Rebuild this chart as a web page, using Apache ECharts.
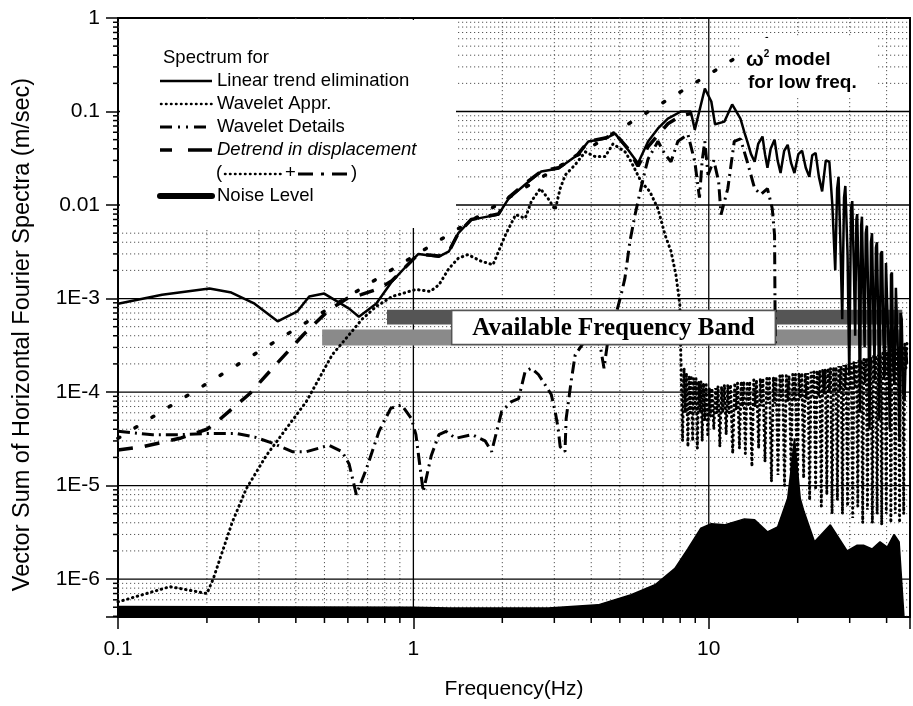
<!DOCTYPE html>
<html><head><meta charset="utf-8">
<script src="https://cdn.jsdelivr.net/npm/echarts@6/dist/echarts.min.js"></script>
<style>html,body{margin:0;padding:0;background:#fff}#c{width:913px;height:706px}</style>
</head><body><div id="c"></div>
<script>
// ---------- data (frequency Hz, amplitude m/sec) ----------
const xTickValues = [0.1, 1, 10];
const yTickValues = [1e-6, 1e-5, 1e-4, 1e-3, 0.01, 0.1, 1];

const linearTrend = [
 [0.1,8.8e-4],[0.141,1.10e-3],[0.204,1.28e-3],[0.242,1.16e-3],[0.29,8.8e-4],[0.347,5.7e-4],
 [0.405,7.3e-4],[0.444,1.05e-3],[0.499,1.13e-3],[0.606,7.8e-4],[0.654,6.4e-4],[0.748,8.8e-4],
 [0.846,1.52e-3],[0.944,2.2e-3],[1.04,3.0e-3],[1.22,2.8e-3],[1.32,3.2e-3],[1.42,5.0e-3],
 [1.57,7.0e-3],[1.66,7.2e-3],[1.94,7.9e-3],[2.10,1.17e-2],[2.39,1.66e-2],[2.71,2.28e-2],[3.10,2.46e-2],
 [3.61,3.47e-2],[3.91,4.77e-2],[4.46,5.14e-2],[4.82,5.8e-2],[5.33,3.9e-2],[5.76,2.8e-2],
 [6.23,4.77e-2],[6.73,6.6e-2],[7.27,8.4e-2],[8.05,0.10],[8.69,0.10],[8.97,0.064],[9.7,0.176],
 [10.2,0.128],[10.5,0.073],[11.3,0.078],[12.0,0.119],[12.8,0.084],[13.2,0.06],[13.5,0.048],
 [13.9,0.035],[14.3,0.029],[14.7,0.045],[15.2,0.054],[15.5,0.035],[15.8,0.025],[16.2,0.04],
 [16.7,0.05],[17.1,0.03],[17.5,0.022],[18.0,0.038],[18.5,0.044],[19.0,0.028],[19.5,0.022],
 [20.1,0.035],[20.7,0.038],[21.3,0.025],[21.9,0.02],[22.4,0.034],[23.0,0.036],[23.6,0.02],
 [24.2,0.014],[24.9,0.03],[25.6,0.029],[26.2,0.01],[26.8,2e-3],[27.2,0.015],[27.5,0.02],
 [27.9,4e-3],[28.3,6e-4],[28.7,0.012],[29.0,0.016],[29.5,3e-3],[29.9,1.5e-4],[30.3,0.009],
 [30.6,0.011],[31.0,2e-3],[31.3,4e-4],[31.6,0.007],[31.8,0.008],[32.2,1.5e-3],[32.5,6e-5],
 [32.8,0.006],[33.0,0.0075],[33.4,1e-3],[33.7,3e-4],[34.0,0.005],[34.3,0.006],[34.7,8e-4],
 [35.0,4e-5],[35.4,0.004],[35.7,0.005],[36.1,6e-4],[36.4,2e-4],[36.8,0.0035],[37.1,0.004],
 [37.5,5e-4],[37.8,5e-5],[38.2,0.003],[38.6,0.0032],[39.0,4e-4],[39.4,1.5e-4],[39.8,0.0024],
 [40.2,0.0025],[40.6,3e-4],[41.0,4e-5],[41.4,0.0018],[41.7,0.0019],[42.1,2e-4],[42.5,1.2e-4],
 [43.0,0.0013],[43.4,0.0013],[43.8,2e-4],[44.2,3e-5],[44.6,7e-4],[45.0,6e-4],[45.5,1e-4],
 [46.0,8e-5],[46.5,3e-4],[46.9,2e-4]
];

const waveletAppr = [
 [0.1,5.7e-7],[0.15,8.3e-7],[0.2,7.0e-7],[0.21,1.0e-6],[0.244,4.1e-6],[0.272,9.3e-6],
 [0.318,2.1e-5],[0.372,4.1e-5],[0.434,7.9e-5],[0.531,2.5e-4],[0.606,4.1e-4],[0.67,6.0e-4],
 [0.748,8.2e-4],[0.846,1.05e-3],[1.02,1.25e-3],[1.14,1.19e-3],[1.22,1.4e-3],[1.32,2.1e-3],
 [1.42,2.7e-3],[1.53,2.95e-3],[1.70,2.5e-3],[1.86,2.3e-3],[2.05,4.8e-3],[2.22,7.9e-3],
 [2.39,7.2e-3],[2.51,1.1e-2],[2.69,1.5e-2],[2.86,1.17e-2],[3.02,8.9e-3],[3.14,1.5e-2],
 [3.27,2.1e-2],[3.53,2.7e-2],[3.82,3.7e-2],[4.12,3.3e-2],[4.46,3.3e-2],[4.74,4.5e-2],
 [5.21,3.7e-2],[5.46,2.9e-2],[5.9,1.78e-2],[6.32,1.39e-2],[6.73,9.1e-3],[7.11,4.8e-3],
 [7.45,3.2e-3],[7.74,1.8e-3],[7.98,8.6e-4],[8.05,2.1e-4],
 [8.15,3e-5],[8.25,1.8e-4],[8.33,6e-5],[8.4,1.6e-4],[8.5,2.6e-5],[8.58,1.5e-4],[8.65,6e-5],
 [8.72,1.5e-4],[8.82,3e-5],[8.9,1.4e-4],[8.98,6e-5],[9.05,1.4e-4],[9.15,2.5e-5],[9.25,1.3e-4],
 [9.33,6e-5],[9.4,1.3e-4],[9.5,3e-5],[9.6,1.25e-4],[9.7,5e-5],[9.8,1.2e-4],[9.92,3.5e-5],
 [10.05,1.1e-4],[10.15,5.5e-5],[10.25,1.1e-4],[10.4,4e-5],[10.55,1.1e-4],[10.65,6e-5],
 [10.75,1.15e-4],[10.9,2.6e-5],[11.05,1.15e-4],[11.15,6e-5],[11.3,1.2e-4],[11.45,3.5e-5],
 [11.6,1.2e-4],[11.72,6e-5],[11.85,1.2e-4],[12.05,2.2e-5],[12.25,1.25e-4],[12.38,6.5e-5],
 [12.52,1.25e-4],[12.7,2.5e-5],[12.88,1.3e-4],[13.0,7e-5],[13.12,1.3e-4],[13.3,2.2e-5],
 [13.48,1.3e-4],[13.62,7e-5],[13.76,1.3e-4],[14.0,1.6e-5],[14.2,1.35e-4],[14.35,7e-5],
 [14.5,1.35e-4],[14.75,2.5e-5],[14.95,1.4e-4],[15.1,7e-5],[15.25,1.4e-4],[15.5,1.8e-5],
 [15.72,1.4e-4],[15.88,7.5e-5],[16.05,1.4e-4],[16.3,1.1e-5],[16.55,1.45e-4],[16.72,7.5e-5],
 [16.9,1.45e-4],[17.15,1.3e-5],[17.4,1.5e-4],[17.58,8e-5],[17.76,1.5e-4],[18.05,1.0e-5],
 [18.3,1.5e-4],[18.5,8e-5],[18.7,1.5e-4],[19.0,1.4e-5],[19.25,1.55e-4],[19.45,8e-5],
 [19.65,1.55e-4],[19.95,8e-6],[20.2,1.6e-4],[20.42,8.5e-5],[20.65,1.6e-4],[20.95,1.2e-5],
 [21.2,1.6e-4],[21.42,8.5e-5],[21.65,1.6e-4],[21.95,7e-6],[22.2,1.65e-4],[22.45,9e-5],
 [22.7,1.65e-4],[23.0,9e-6],[23.25,1.7e-4],[23.5,9e-5],[23.75,1.7e-4],[24.05,6e-6],
 [24.3,1.75e-4],[24.55,9.5e-5],[24.8,1.75e-4],[25.1,8e-6],[25.35,1.8e-4],[25.6,1e-4],
 [25.85,1.8e-4],[26.15,5e-6],[26.45,1.85e-4],[26.7,1e-4],[26.95,1.85e-4],[27.25,7e-6],
 [27.55,1.9e-4],[27.8,1.05e-4],[28.05,1.9e-4],[28.35,5e-6],[28.65,1.95e-4],[28.9,1.1e-4],
 [29.15,1.95e-4],[29.5,6e-6],[29.8,2.0e-4],[30.1,1.1e-4],[30.4,2.05e-4],[30.7,4.5e-6],
 [31.0,2.1e-4],[31.3,1.15e-4],[31.6,2.1e-4],[31.95,6e-6],[32.25,2.15e-4],[32.55,1.2e-4],
 [32.85,2.2e-4],[33.2,4e-6],[33.5,2.25e-4],[33.8,1.25e-4],[34.1,2.3e-4],[34.45,5.5e-6],
 [34.8,2.3e-4],[35.1,1.3e-4],[35.4,2.35e-4],[35.8,4e-6],[36.15,2.4e-4],[36.45,1.35e-4],
 [36.75,2.45e-4],[37.15,5e-6],[37.5,2.5e-4],[37.8,1.4e-4],[38.1,2.55e-4],[38.5,3.8e-6],
 [38.85,2.6e-4],[39.2,1.45e-4],[39.5,2.65e-4],[39.9,5e-6],[40.25,2.7e-4],[40.6,1.5e-4],
 [40.95,2.75e-4],[41.35,4e-6],[41.7,2.8e-4],[42.05,1.6e-4],[42.4,2.85e-4],[42.8,5e-6],
 [43.15,2.9e-4],[43.5,1.65e-4],[43.85,3.0e-4],[44.25,4e-6],[44.6,3.05e-4],[44.95,1.7e-4],
 [45.3,3.15e-4],[45.7,5e-6],[46.1,3.3e-4],[46.5,1.8e-4],[46.9,3.5e-4]
];

const waveletDetails = [
 [0.1,3.8e-5],[0.131,3.5e-5],[0.164,3.5e-5],[0.201,3.6e-5],[0.252,3.6e-5],[0.29,3.3e-5],
 [0.338,2.8e-5],[0.389,2.3e-5],[0.434,2.3e-5],[0.518,2.7e-5],[0.574,2.3e-5],[0.606,1.7e-5],
 [0.641,8.0e-6],[0.693,1.5e-5],[0.765,3.8e-5],[0.838,6.7e-5],[0.912,7.3e-5],[0.985,5.2e-5],
 [1.02,3.5e-5],[1.05,1.7e-5],[1.08,8.6e-6],[1.15,2.1e-5],[1.22,3.5e-5],[1.29,3.8e-5],
 [1.39,3.2e-5],[1.58,3.5e-5],[1.75,3.0e-5],[1.84,2.3e-5],[1.99,6.2e-5],[2.15,7.9e-5],
 [2.27,8.5e-5],[2.39,1.66e-4],[2.51,1.8e-4],[2.65,1.54e-4],[2.79,1.2e-4],[2.93,9.4e-5],
 [3.02,6.2e-5],[3.09,4.1e-5],[3.14,2.6e-5],[3.26,2.3e-5],[3.29,5.2e-5],[3.42,1.3e-4],
 [3.53,2.5e-4],[3.8,3.5e-4],[4.1,4.2e-4],[4.3,3.0e-4],[4.42,1.8e-4],[4.55,3.5e-4],[4.8,6e-4],
 [5.05,1.1e-3],[5.2,1.64e-3],[5.41,4.1e-3],[5.63,7.9e-3],[5.89,0.015],[6.08,0.023],[6.23,0.031],
 [6.73,0.048],[7.1,0.035],[7.45,0.029],[7.86,0.048],[8.5,0.057],[8.97,0.029],[9.3,0.012],
 [9.5,0.03],[9.7,0.048],[9.94,0.021],[10.4,0.03],[10.8,0.0178],[11.0,7.9e-3],[11.6,0.015],
 [12.2,0.048],[12.8,0.051],[13.5,0.029],[14.3,0.015],[15.0,0.013],[15.8,0.015],[16.4,9.2e-3],
 [16.7,4.8e-3],[16.75,1.1e-3],[16.8,3e-4]
];

const detrendDisp = [
 [0.1,2.4e-5],[0.121,2.6e-5],[0.162,3.2e-5],[0.2,4.0e-5],[0.221,5.1e-5],[0.279,9.6e-5],
 [0.344,2.0e-4],[0.424,4.1e-4],[0.519,7.6e-4],[0.596,1.0e-3],[0.665,1.1e-3],[0.765,1.28e-3],
 [0.846,1.55e-3],[0.944,2.2e-3],[1.04,3.0e-3],[1.22,2.85e-3],[1.32,3.2e-3],[1.42,5.0e-3],
 [1.57,7.0e-3],[1.94,8.0e-3],[2.10,1.2e-2],[2.39,1.7e-2],[2.71,2.3e-2],[3.10,2.5e-2],
 [3.61,3.5e-2],[3.91,4.8e-2],[4.46,5.2e-2],[4.82,5.8e-2],[5.33,4.0e-2],[5.76,2.6e-2],
 [6.23,4.2e-2],[6.73,5.6e-2],[7.27,7.4e-2],[8.05,9.0e-2],[8.69,9.5e-2]
];

const omega2Model = [[0.1,3.2e-5],[17,0.70]];

const noiseLevel = [
 [0.1,5.1e-7],[1,5.0e-7],[1.32,4.9e-7],[2.86,4.9e-7],[4.22,5.3e-7],[5.46,6.8e-7],[6.58,8.7e-7],
 [7.68,1.3e-6],[8.49,2.1e-6],[9.4,3.5e-6],[10.2,3.9e-6],[11.3,3.8e-6],[13.2,4.4e-6],[14.3,4.3e-6],
 [15.8,3.2e-6],[17.1,3.6e-6],[18.5,7.3e-6],[19.0,1.5e-5],[19.5,3.2e-5],[20.0,1.4e-5],[20.4,7.3e-6],
 [21.0,5.3e-6],[22.8,2.5e-6],[25.8,3.8e-6],[29.4,2.0e-6],[31.8,2.3e-6],[33.4,2.3e-6],[35.7,2.1e-6],
 [38.0,2.5e-6],[40.2,2.2e-6],[42.4,3.0e-6],[44.1,2.5e-6],[45.8,3.93e-7],[48,3.93e-7]
];

// ---------- axes ----------
const XMIN = 0.1, XMAX = 48, YMIN = 3.93e-7, YMAX = 1;
const FONT = '"Liberation Sans", Arial, sans-serif';
function decadeMinors(lo, hi) {
  const out = [];
  for (let e = Math.floor(Math.log10(lo)); e <= Math.ceil(Math.log10(hi)); e++)
    for (let m = 2; m <= 9; m++) { const v = m * Math.pow(10, e); if (v > lo && v < hi) out.push(v); }
  return out;
}
const xMinor = decadeMinors(XMIN, XMAX), yMinor = decadeMinors(YMIN, YMAX);

function gridLines(vals, dir, style, tickLen, z) {
  return {
    type: 'custom', silent: true, z: z, clip: false,
    data: vals.map(v => dir === 'x' ? [v, 1e-3] : [1, v]),
    renderItem: (params, api) => {
      const cs = params.coordSys;
      const children = [];
      if (dir === 'x') {
        const px = api.coord([api.value(0), 1e-3])[0];
        children.push({type: 'line', shape: {x1: px, y1: cs.y, x2: px, y2: cs.y + cs.height}, style: style});
        if (tickLen) children.push({type: 'line', shape: {x1: px, y1: cs.y + cs.height, x2: px, y2: cs.y + cs.height + tickLen}, style: {stroke: '#000', lineWidth: 1.5}});
      } else {
        const py = api.coord([1, api.value(1)])[1];
        children.push({type: 'line', shape: {x1: cs.x, y1: py, x2: cs.x + cs.width, y2: py}, style: style});
        if (tickLen) children.push({type: 'line', shape: {x1: cs.x - tickLen, y1: py, x2: cs.x, y2: py}, style: {stroke: '#000', lineWidth: 1.5}});
      }
      return {type: 'group', children: children};
    }
  };
}

function fmtPow(v, isY) {
  const e = Math.log10(v), r = Math.round(e);
  if (Math.abs(e - r) > 1e-6) return '';
  if (r === 0) return '1';
  if (r === 1) return '10';
  if (r === -1) return '0.1';
  if (isY && r === -2) return '0.01';
  return '1E' + r;
}

const chart = echarts.init(document.getElementById('c'));
const lineBase = {type: 'line', showSymbol: false, symbol: 'none', smooth: false, silent: true, animation: false};
const txt = (text, x, y, font) => ({type: 'text', z: 101, style: {text: text, x: x, y: y, font: font || ('18.5px ' + FONT), fill: '#000', verticalAlign: 'middle', textVerticalAlign: 'middle'}});

const option = {
  animation: false,
  backgroundColor: '#fff',
  grid: {left: 118, top: 18, right: 0, bottom: 89, show: true, borderColor: '#000', borderWidth: 2, backgroundColor: 'transparent'},
  xAxis: {
    type: 'log', logBase: 10, min: XMIN, max: XMAX,
    name: 'Frequency(Hz)', nameLocation: 'middle', nameGap: 62,
    nameTextStyle: {fontFamily: FONT, fontSize: 21, color: '#000'},
    axisLine: {lineStyle: {color: '#000', width: 2}},
    axisTick: {show: true, length: 12, inside: false, lineStyle: {color: '#000', width: 1.5}},
    axisLabel: {formatter: v => fmtPow(v, false), fontFamily: FONT, fontSize: 21, color: '#000', margin: 22},
    splitLine: {show: false}
  },
  yAxis: {
    type: 'log', logBase: 10, min: YMIN, max: YMAX,
    name: 'Vector Sum of Horizontal Fourier Spectra (m/sec)', nameLocation: 'middle', nameGap: 83,
    nameTextStyle: {fontFamily: FONT, fontSize: 23.5, color: '#000', padding: [0, 34, 0, 0]},
    axisLine: {lineStyle: {color: '#000', width: 2}},
    axisTick: {show: true, length: 12, lineStyle: {color: '#000', width: 1.5}},
    axisLabel: {formatter: v => fmtPow(v, true), fontFamily: FONT, fontSize: 21, color: '#000', margin: 18},
    splitLine: {show: false}
  },
  series: [
    gridLines(xMinor, 'x', {stroke: '#555', lineWidth: 1, lineDash: [1.2, 2.8]}, 6, 1),
    gridLines(yMinor, 'y', {stroke: '#555', lineWidth: 1, lineDash: [1.2, 2.8]}, 5, 1),
    gridLines(xTickValues.slice(1), 'x', {stroke: '#000', lineWidth: 1.3}, 0, 1),
    gridLines(yTickValues.slice(0, -1), 'y', {stroke: '#000', lineWidth: 1.3}, 0, 1),
    { // available frequency band bars (annotation)
      type: 'custom', silent: true, z: 2, data: [[1, 1e-3]],
      renderItem: (params, api) => {
        const r = (x0, x1, y0, y1) => { const a = api.coord([x0, y1]), b = api.coord([x1, y0]); return {x: a[0], y: a[1], width: b[0] - a[0], height: b[1] - a[1]}; };
        return {type: 'group', children: [
          {type: 'rect', shape: r(0.814, 45.2, 5.27e-4, 7.6e-4), style: {fill: '#555'}},
          {type: 'rect', shape: r(0.491, 45.2, 3.14e-4, 4.66e-4), style: {fill: '#8a8a8a'}}
        ]};
      }
    },
    Object.assign({}, lineBase, {name: 'Noise Level', z: 3, data: noiseLevel,
      lineStyle: {color: '#000', width: 1.5}, areaStyle: {color: '#000', opacity: 1, origin: 'start'}}),
    Object.assign({}, lineBase, {name: 'Wavelet Appr.', z: 4, data: waveletAppr,
      lineStyle: {color: '#000', width: 3, type: [0.5, 4.5], cap: 'round'}}),
    Object.assign({}, lineBase, {name: 'Wavelet Details', z: 5, data: waveletDetails,
      lineStyle: {color: '#000', width: 3, type: [12, 5, 2, 5]}}),
    Object.assign({}, lineBase, {name: 'Detrend in displacement', z: 5, data: detrendDisp,
      lineStyle: {color: '#000', width: 3.5, type: [15, 12]}}),
    Object.assign({}, lineBase, {name: 'omega2 model', z: 5, data: omega2Model,
      lineStyle: {color: '#000', width: 3.5, type: [2, 18], cap: 'round'}}),
    Object.assign({}, lineBase, {name: 'Linear trend elimination', z: 6, data: linearTrend,
      lineStyle: {color: '#000', width: 2.5}}),
    { // white label box over the band
      type: 'custom', silent: true, z: 9, data: [[1, 1e-3]],
      renderItem: (params, api) => {
        const a = api.coord([1.348, 7.44e-4]), b = api.coord([16.8, 3.22e-4]);
        return {type: 'group', children: [
          {type: 'rect', shape: {x: a[0], y: a[1], width: b[0] - a[0], height: b[1] - a[1]}, style: {fill: '#fff', stroke: '#555', lineWidth: 1.5}},
          {type: 'text', style: {text: 'Available Frequency Band', x: (a[0] + b[0]) / 2, y: (a[1] + b[1]) / 2 + 1,
            align: 'center', verticalAlign: 'middle', textAlign: 'center', textVerticalAlign: 'middle',
            font: 'bold 25px "Liberation Serif", "Times New Roman", serif', fill: '#000'}}
        ]};
      }
    }
  ],
  graphic: {elements: [
    {type: 'rect', z: 100, shape: {x: 120, y: 20, width: 336, height: 208}, style: {fill: '#fff'}},
    {type: 'rect', z: 100, shape: {x: 740, y: 38, width: 138, height: 58}, style: {fill: '#fff'}},
    txt('Spectrum for', 163, 58),
    {type: 'line', z: 101, shape: {x1: 160, y1: 81, x2: 212, y2: 81}, style: {stroke: '#000', lineWidth: 2.5}},
    txt('Linear trend elimination', 217, 81),
    {type: 'line', z: 101, shape: {x1: 161, y1: 104, x2: 212, y2: 104}, style: {stroke: '#000', lineWidth: 2.5, lineDash: [0.5, 4.5], lineCap: 'round'}},
    txt('Wavelet Appr.', 217, 104),
    {type: 'line', z: 101, shape: {x1: 160, y1: 127, x2: 212, y2: 127}, style: {stroke: '#000', lineWidth: 3, lineDash: [12, 6, 2, 6, 2, 6]}},
    txt('Wavelet Details', 217, 127),
    {type: 'line', z: 101, shape: {x1: 160, y1: 150, x2: 212, y2: 150}, style: {stroke: '#000', lineWidth: 3.5, lineDash: [12, 16, 24]}},
    txt('Detrend in displacement', 217, 150, 'italic 18.5px ' + FONT),
    txt('(', 216, 173),
    {type: 'line', z: 101, shape: {x1: 225, y1: 174, x2: 282, y2: 174}, style: {stroke: '#000', lineWidth: 2.5, lineDash: [0.5, 4.5], lineCap: 'round'}},
    txt('+', 285, 173),
    {type: 'line', z: 101, shape: {x1: 298, y1: 174, x2: 349, y2: 174}, style: {stroke: '#000', lineWidth: 3, lineDash: [15, 8, 3, 8]}},
    txt(')', 351, 173),
    {type: 'line', z: 101, shape: {x1: 160, y1: 196, x2: 212, y2: 196}, style: {stroke: '#000', lineWidth: 6, lineCap: 'round'}},
    txt('Noise Level', 217, 196),
    {type: 'text', z: 101, style: {text: '{w|ω}{s|2}{m| model}', x: 746, y: 60, verticalAlign: 'middle', textVerticalAlign: 'middle',
      rich: {w: {fontFamily: FONT, fontSize: 21, fontWeight: 'bold', fill: '#000'},
             s: {fontFamily: FONT, fontSize: 10, fontWeight: 'bold', fill: '#000', verticalAlign: 'top', padding: [0, 0, 4, 0]},
             m: {fontFamily: FONT, fontSize: 19, fontWeight: 'bold', fill: '#000'}}}},
    txt('for low freq.', 748, 83, 'bold 19px ' + FONT)
  ]}
};
chart.setOption(option);
</script></body></html>
